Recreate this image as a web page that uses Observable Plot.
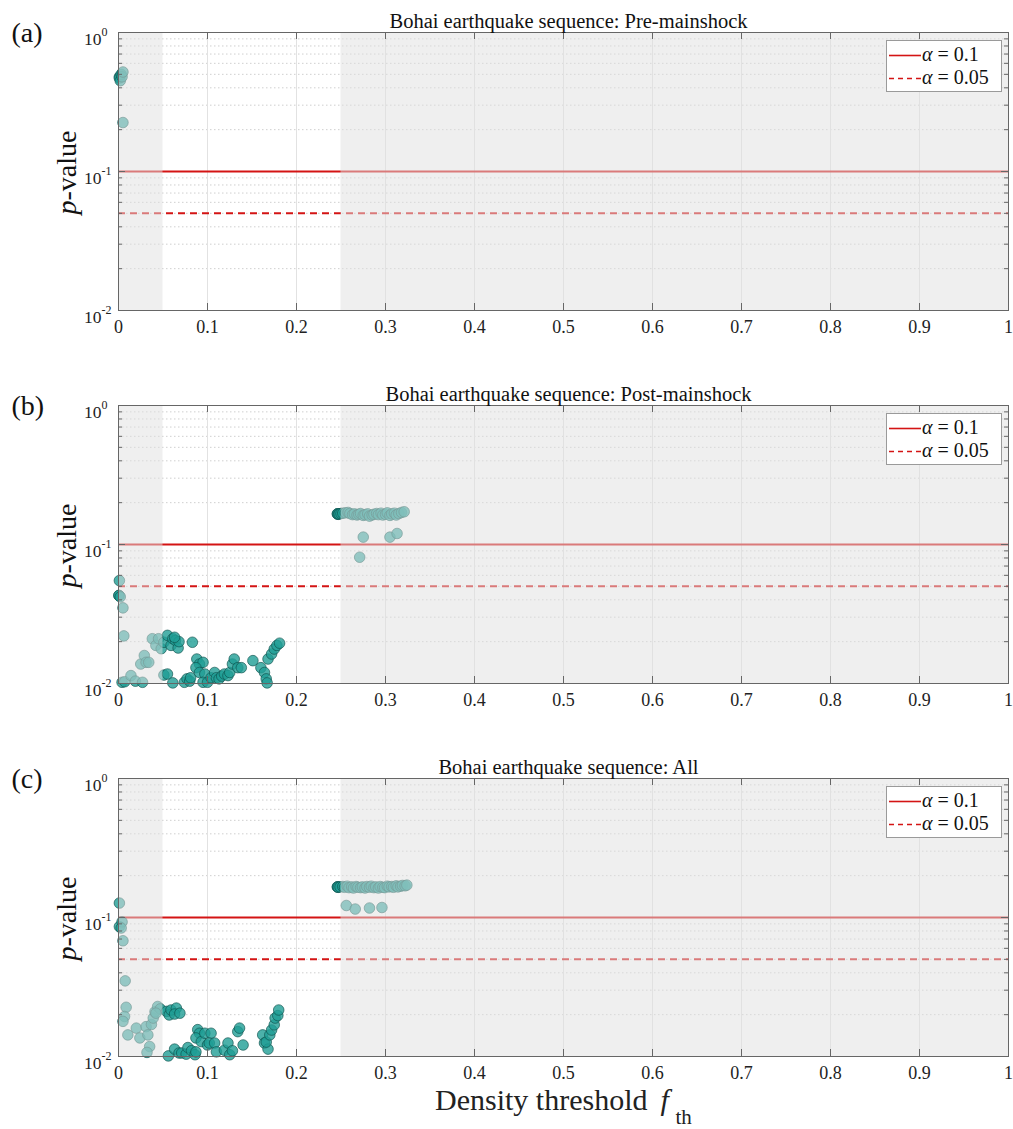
<!DOCTYPE html>
<html>
<head>
<meta charset="utf-8">
<script src="https://cdn.jsdelivr.net/npm/d3@7"></script>
<script src="https://cdn.jsdelivr.net/npm/@observablehq/plot@0.6"></script>
<style>
  body { margin: 0; background: #fff; }
  #fig { position: relative; width: 1013px; height: 1129px; background: #fff; font-family: 'Liberation Serif', 'Times New Roman', serif; }
  .panel { position: relative; width: 1013px; }
  .panel svg { display: block; }
  .legend { position: absolute; left: 886px; top: 40px; width: 116px; height: 52px; border: 1px solid #9a9a9a; background: #fff; box-sizing: border-box; }
  .legend .row { position: absolute; left: 0; height: 22px; width: 115px; }
  .legend svg { position: absolute; left: 2px; top: 11px; }
  .legend span { position: absolute; left: 35px; top: 0px; font-size: 20px; line-height: 22px; color: #111; white-space: nowrap; }
</style>
</head>
<body>
<div id="fig"></div>
<script>
// ---------------- data ----------------
const xTicks = [0, 0.1, 0.2, 0.3, 0.4, 0.5, 0.6, 0.7, 0.8, 0.9, 1];
const xGrid = [0.1, 0.2, 0.3, 0.4, 0.5, 0.6, 0.7, 0.8, 0.9];
const yDomain = [0.01, 1];
const yMajor = [0.01, 0.1, 1];
const yExponents = ["-2", "-1", "0"];
const yMinor = [0.02, 0.03, 0.04, 0.05, 0.06, 0.07, 0.08, 0.09, 0.2, 0.3, 0.4, 0.5, 0.6, 0.7, 0.8, 0.9];
const shadeFrom = [0, 0.25];
const shadeTo = [0.05, 1];
const alphaLevels = [0.1, 0.05];
const alphaLabels = ["0.1", "0.05"];
const titles = [
  "Bohai earthquake sequence: Pre-mainshock",
  "Bohai earthquake sequence: Post-mainshock",
  "Bohai earthquake sequence: All"
];
const panelLabels = ["(a)", "(b)", "(c)"];

// (a) pre-mainshock
const preX = [0.001, 0.001, 0.002, 0.003, 0.004, 0.005, 0.005];
const preP = [0.48, 0.47, 0.45, 0.50, 0.48, 0.52, 0.225];

// (b) post-mainshock
const postX = [
  0.001, 0.0005, 0.0005, 0.002, 0.005, 0.006, 0.004, 0.007, 0.014, 0.019, 0.027, 0.025, 0.029, 0.031, 0.034, 0.038, 0.042, 0.045, 0.048,
  0.051, 0.055, 0.059, 0.061, 0.064, 0.067, 0.068, 0.063, 0.051, 0.055, 0.061,
  0.074, 0.077, 0.080, 0.081, 0.083, 0.088, 0.091, 0.095, 0.087, 0.091, 0.097, 0.095, 0.100,
  0.104, 0.108, 0.110, 0.113, 0.116, 0.119, 0.123, 0.125, 0.128, 0.130, 0.134, 0.138,
  0.151, 0.160, 0.164, 0.166, 0.167, 0.168, 0.172, 0.175, 0.178, 0.181,
  0.246, 0.246, 0.247, 0.248, 0.250, 0.252, 0.255, 0.258, 0.260, 0.263, 0.265, 0.268, 0.270, 0.272, 0.275, 0.277, 0.280,
  0.282, 0.285, 0.287, 0.290, 0.292, 0.295, 0.297, 0.300, 0.302, 0.305, 0.307, 0.310, 0.312, 0.315, 0.318, 0.321,
  0.271, 0.275, 0.305, 0.313
];
const postP = [
  0.055, 0.043, 0.043, 0.042, 0.035, 0.022, 0.0102, 0.0103, 0.0114, 0.0104, 0.0102, 0.0138, 0.0159, 0.0142, 0.0142, 0.021, 0.0188, 0.021, 0.0178,
  0.0198, 0.0222, 0.0188, 0.021, 0.0204, 0.018, 0.020, 0.0215, 0.0115, 0.0117, 0.0101,
  0.0102, 0.0108, 0.0104, 0.011, 0.0198, 0.015, 0.0138, 0.0142, 0.013, 0.012, 0.0117, 0.0102, 0.0102,
  0.011, 0.012, 0.011, 0.0108, 0.0113, 0.0117, 0.0114, 0.012, 0.0138, 0.015, 0.013, 0.013,
  0.0146, 0.013, 0.012, 0.0108, 0.0101, 0.015, 0.0163, 0.0177, 0.0188, 0.0195,
  0.166, 0.166, 0.165, 0.166, 0.167, 0.168, 0.169, 0.170, 0.167, 0.164, 0.166, 0.163, 0.165, 0.167, 0.162, 0.164, 0.166,
  0.160, 0.163, 0.165, 0.167, 0.164, 0.168, 0.163, 0.165, 0.169, 0.162, 0.166, 0.168, 0.163, 0.167, 0.170, 0.172,
  0.081, 0.113, 0.113, 0.120
];

// (c) all
const allX = [
  0.001, 0.001, 0.004, 0.003, 0.005, 0.0075, 0.0086, 0.0068, 0.005, 0.0105, 0.020, 0.024, 0.031, 0.033, 0.035, 0.032,
  0.037, 0.039, 0.041, 0.044, 0.047, 0.042,
  0.054, 0.057, 0.059, 0.065, 0.063, 0.069,
  0.056, 0.063, 0.068, 0.071, 0.076, 0.078, 0.082, 0.086, 0.087,
  0.089, 0.091, 0.087, 0.093, 0.097, 0.100, 0.104, 0.102, 0.108, 0.110,
  0.119, 0.123, 0.125, 0.128, 0.134, 0.136, 0.140,
  0.162, 0.164, 0.168, 0.166, 0.170, 0.172, 0.175, 0.176, 0.179, 0.180,
  0.246, 0.246, 0.247, 0.249, 0.252, 0.254, 0.257, 0.259, 0.262, 0.264, 0.267, 0.269, 0.272, 0.274, 0.277, 0.279, 0.282,
  0.284, 0.287, 0.289, 0.292, 0.294, 0.297, 0.299, 0.302, 0.304, 0.307, 0.309, 0.312, 0.314, 0.317, 0.319, 0.322, 0.324,
  0.256, 0.266, 0.282, 0.296
];
const allP = [
  0.127, 0.086, 0.093, 0.084, 0.068, 0.035, 0.0226, 0.0194, 0.0179, 0.0143, 0.016, 0.0136, 0.0164, 0.0143, 0.0118, 0.0107,
  0.017, 0.0189, 0.021, 0.0229, 0.022, 0.0205,
  0.0211, 0.0199, 0.0216, 0.0223, 0.0202, 0.0205,
  0.0101, 0.0113, 0.0106, 0.0106, 0.0104, 0.0116, 0.011, 0.0103, 0.0108,
  0.0156, 0.0147, 0.0136, 0.0128, 0.0147, 0.0121, 0.0147, 0.0125, 0.0125, 0.0108,
  0.0111, 0.0125, 0.0103, 0.011, 0.0151, 0.016, 0.0121,
  0.0143, 0.0125, 0.0113, 0.0127, 0.0143, 0.0155, 0.0169, 0.0189, 0.0197, 0.0216,
  0.166, 0.166, 0.165, 0.166, 0.167, 0.165, 0.168, 0.164, 0.166, 0.163, 0.167, 0.165, 0.164, 0.166, 0.163, 0.167, 0.165,
  0.168, 0.164, 0.166, 0.163, 0.167, 0.165, 0.164, 0.168, 0.166, 0.167, 0.165, 0.169, 0.166, 0.168, 0.170, 0.169, 0.171,
  0.122, 0.115, 0.117, 0.118
];

const panelsX = [preX, postX, allX];
const panelsP = [preP, postP, allP];

// ---------------- drawing ----------------
const W = 1013, mL = 118, mR = 5, mT = 32, plotH = 278, plotW = W - mL - mR;
const FONT = "'Liberation Serif', 'Times New Roman', serif";
const AX = "#666";
const RED = "#d41414";
const fig = document.getElementById("fig");

function makePanel(i, svgH) {
  const xs = panelsX[i], ps = panelsP[i];
  const pts = xs.map((x, j) => ({x, p: ps[j]}));
  const shade = shadeFrom.map((a, j) => ({x1: a, x2: shadeTo[j]}));
  const mB = svgH - mT - plotH;
  const marks = [
    Plot.ruleY(yMinor, {stroke: "#cfcfcf", strokeDasharray: "1.5,2.5", strokeWidth: 1}),
    Plot.ruleY(yMajor, {stroke: "#e2e2e2"}),
    Plot.ruleX(xGrid, {stroke: "#e2e2e2"}),
    Plot.ruleY([alphaLevels[0]], {stroke: RED, strokeWidth: 2}),
    Plot.ruleY([alphaLevels[1]], {stroke: RED, strokeWidth: 2, strokeDasharray: "7,5"}),
    Plot.dot(pts, {x: "x", y: "p", r: 5.3, fill: "#1f9e95", fillOpacity: 0.8, stroke: "#0c4f4a", strokeWidth: 0.8, strokeOpacity: 0.8}),
    Plot.rect(shade, {x1: "x1", x2: "x2", y1: () => yDomain[0], y2: () => yDomain[1], fill: "#e0e0e0", fillOpacity: 0.5}),
    Plot.frame({stroke: AX}),
    // ticks (inward, on all four sides)
    Plot.ruleX(xTicks, {stroke: AX, insetTop: plotH - 7}),
    Plot.ruleX(xTicks, {stroke: AX, insetBottom: plotH - 7}),
    Plot.ruleY(yMajor, {stroke: AX, insetRight: plotW - 7}),
    Plot.ruleY(yMajor, {stroke: AX, insetLeft: plotW - 7}),
    Plot.ruleY(yMinor, {stroke: AX, insetRight: plotW - 4}),
    Plot.ruleY(yMinor, {stroke: AX, insetLeft: plotW - 4}),
    Plot.axisX(xTicks, {tickSize: 0, tickPadding: 10, fontSize: 18, label: null, fill: "#222",
      tickFormat: d => (d === 0 ? "0" : d === 1 ? "1" : d.toFixed(1))}),
    // y tick labels 10^k
    Plot.text(yMajor, {y: d => d, frameAnchor: "left", text: () => "10", dx: -17, dy: 7, textAnchor: "end", fontSize: 17.5, fill: "#222"}),
    Plot.text(yMajor, {y: d => d, frameAnchor: "left", text: (d, j) => yExponents[j], dx: -17, dy: 0, textAnchor: "start", fontSize: 12, fill: "#222"}),
    // y label (centred on the axes)
    Plot.text(["p"], {text: d => d, frameAnchor: "left", rotate: -90, dx: -51, dy: 43, textAnchor: "start", fontSize: 28, fontStyle: "italic", fill: "#111"}),
    Plot.text(["-value"], {text: d => d, frameAnchor: "left", rotate: -90, dx: -51, dy: 29, textAnchor: "start", fontSize: 28, fill: "#111"}),
    // title and panel label
    Plot.text([titles[i]], {text: d => d, frameAnchor: "top", dx: 5, dy: -19, fontSize: 20.5, fill: "#111"}),
    Plot.text([panelLabels[i]], {text: d => d, frameAnchor: "top-left", dx: -107, dy: -10, textAnchor: "start", fontSize: 28, fill: "#111"})
  ];
  if (i === 2) {
    marks.push(
      Plot.text(["Density threshold"], {text: d => d, frameAnchor: "bottom", dx: 84, dy: 53, textAnchor: "end", fontSize: 30, fill: "#222"}),
      Plot.text(["f"], {text: d => d, frameAnchor: "bottom", dx: 97, dy: 53, textAnchor: "start", fontSize: 30, fontStyle: "italic", fill: "#222"}),
      Plot.text(["th"], {text: d => d, frameAnchor: "bottom", dx: 112, dy: 67, textAnchor: "start", fontSize: 21, fill: "#222"})
    );
  }
  const svg = Plot.plot({
    width: W, height: svgH,
    marginLeft: mL, marginRight: mR, marginTop: mT, marginBottom: mB,
    style: {fontFamily: FONT, background: "#fff", overflow: "visible"},
    x: {domain: [0, 1]},
    y: {type: "log", domain: yDomain, axis: null},
    marks
  });
  const div = document.createElement("div");
  div.className = "panel";
  div.style.height = svgH + "px";
  div.appendChild(svg);
  // legend
  const lg = document.createElement("div");
  lg.className = "legend";
  alphaLevels.forEach((a, j) => {
    const row = document.createElement("div");
    row.className = "row";
    row.style.top = (2 + j * 23) + "px";
    const dash = j === 0 ? "" : ` stroke-dasharray="5,4"`;
    row.innerHTML = `<svg width="32" height="3"><line x1="0" y1="1.5" x2="32" y2="1.5" stroke="${RED}" stroke-width="1.6"${dash}/></svg>` +
      `<span><i>α</i> = ${alphaLabels[j]}</span>`;
    lg.appendChild(row);
  });
  div.appendChild(lg);
  fig.appendChild(div);
}

makePanel(0, 373);
makePanel(1, 373);
makePanel(2, 383);
</script>
</body>
</html>
